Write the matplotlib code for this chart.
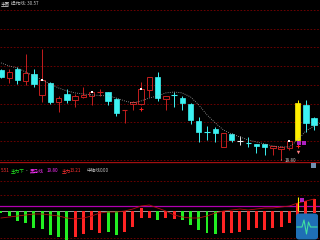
import numpy as np
import matplotlib.pyplot as plt
from matplotlib.patches import Rectangle, FancyBboxPatch

plt.rcParams['font.family'] = ['Noto Sans CJK SC', 'DejaVu Sans']

# main chart: daily candles (price)
opens = [23.75, 23.31, 23.81, 23.15, 23.53, 22.38, 23.04, 21.99, 22.43, 22.10,
         22.27, 22.32, 22.54, 22.54, 22.16, 21.55, 21.88, 21.88, 22.65, 23.37,
         22.16, 22.38, 22.21, 21.88, 20.95, 20.34, 20.51, 19.52, 20.23, 19.85,
         19.74, 19.68, 19.68, 19.46, 19.41, 19.46, 19.90, 21.83, 21.11, 20.89]
highs = [23.81, 23.81, 23.92, 24.63, 23.81, 24.91, 23.09, 22.32, 22.71, 22.43,
         22.82, 22.60, 22.71, 22.54, 22.21, 21.55, 22.05, 23.09, 23.37, 23.64,
         22.32, 22.54, 22.32, 21.94, 21.17, 20.67, 20.62, 20.29, 20.29, 20.12,
         20.07, 19.68, 19.68, 19.57, 19.57, 19.90, 22.10, 22.10, 21.17, 22.65]
lows = [23.31, 23.04, 22.98, 22.93, 22.82, 21.99, 21.88, 21.44, 21.94, 21.72,
        22.21, 21.83, 22.32, 21.83, 21.22, 20.84, 21.55, 21.83, 22.27, 22.05,
        21.55, 21.72, 21.55, 20.78, 19.79, 19.90, 19.79, 19.52, 19.79, 19.63,
        19.52, 19.19, 19.08, 19.08, 18.80, 19.35, 19.85, 20.34, 20.45, 20.84]
closes = [23.37, 23.64, 23.20, 23.59, 22.98, 23.20, 21.99, 22.21, 22.10, 22.32,
          22.38, 22.54, 22.54, 22.05, 21.39, 21.55, 21.99, 22.71, 23.37, 22.21,
          22.32, 22.38, 21.94, 21.00, 20.34, 20.34, 20.29, 20.29, 19.90, 19.85,
          19.74, 19.57, 19.52, 19.57, 19.52, 19.85, 21.94, 20.84, 20.73, 22.54]
op_line = [24.14, 23.97, 23.86, 23.64, 23.42, 23.20, 22.98, 22.76, 22.60, 22.49,
           22.43, 22.38, 22.35, 22.32, 22.21, 22.05, 21.94, 22.05, 22.21, 22.32,
           22.49, 22.54, 22.49, 22.27, 21.83, 21.28, 20.84, 20.45, 20.23, 20.07,
           19.90, 19.79, 19.68, 19.57, 19.52, 19.52, 19.90, 20.40, 20.67, 20.89]
white_sig = [5, 11, 17, 35]
cross_sig = [(17, 21.60), (36, 19.57)]
low_label = '18.80'

# sub chart
bar_top = [0, 0, 0, 0, 0, 0, 0, 0, 0, 0, 0, 0, 0, 0, 0, 0, 0, 11.9, 0, 0,
           0, 0, 0, 0, 0, 0, 0, 0, 0, 0, 0, 0, 0, 0, 0, 0, 31.7, 39.6, 47.5]
bar_bot = [-7.9, -19.8, -39.6, -47.5, -67.3, -71.3, -95.0, -103.0, -114.8, -103.0,
           -91.1, -75.2, -87.1, -83.2, -95.0, -83.2, -63.4, -27.7, -27.7, -35.6,
           -27.7, -31.7, -35.6, -55.4, -75.2, -87.1, -91.1, -87.1, -87.1, -83.2,
           -75.2, -67.3, -75.2, -67.3, -63.4, -47.5, -43.6, -27.7, -7.9]
bar_dir = list('GGGGGGGGGRRRRGGRRRRGRRGGGGGRRRRRRRRRRRR')
main_line = [-27.7, -23.8, -19.8, -15.8, -11.9, -11.9, -15.8, -19.8, -27.7, -31.7,
             -27.7, -19.8, -7.9, -4.0, -4.0, 0, 7.9, 19.8, 23.8, 11.9,
             0, -15.8, -23.8, -27.7, -27.7, -19.8, -7.9, 0, 4.0, 7.9,
             4.0, 7.9, 11.9, 11.9, 15.8, 19.8, 31.7, 39.6, 47.5]
heima = 19.80

RED = '#c41e1e'
CYAN = '#3cf2f2'
YEL = '#ffee00'
special = {21: CYAN, 25: CYAN, 30: CYAN, 29: '#e8e8e8', 36: YEL, 39: YEL}

fig = plt.figure(figsize=(3.2, 2.4), dpi=100, facecolor='black')
ax = fig.add_axes([0, 1 - 162 / 240, 1, 152 / 240])
ax2 = fig.add_axes([0, 0, 1, 78 / 240])
for a in (ax, ax2):
    a.set_facecolor('black')
    a.set_xticks([])
    a.set_yticks([])
    for s in a.spines.values():
        s.set_visible(False)
    a.set_xlim(-0.12, 38.71)

ax.set_ylim(18.69, 27.05)
for lv in np.linspace(27.05, 18.82, 9):
    ax.axhline(lv, color='#7a0000', lw=0.6, ls=(0, (2, 2)), zorder=0)

w = 0.66
for i in range(len(opens)):
    o, h, l, c = opens[i], highs[i], lows[i], closes[i]
    col = special.get(i, RED if c >= o else CYAN)
    if col == YEL:
        ax.vlines(i, l, h, color=col, lw=0.7, zorder=2)
        ax.add_patch(Rectangle((i - w / 2, o), w, c - o, facecolor=col, edgecolor=col, lw=0.5, zorder=3))
    elif o == c:
        ax.vlines(i, l, h, color=col, lw=0.7, zorder=2)
        ax.hlines(o, i - w / 2, i + w / 2, color=col, lw=0.8, zorder=3)
    elif c > o:
        ax.vlines(i, c, h, color=col, lw=0.7, zorder=2)
        ax.vlines(i, l, o, color=col, lw=0.7, zorder=2)
        ax.add_patch(Rectangle((i - w / 2, o), w, c - o, fill=False, edgecolor=col, lw=0.7, zorder=3))
    else:
        ax.vlines(i, l, h, color=col, lw=0.7, zorder=2)
        ax.add_patch(Rectangle((i - w / 2, c), w, o - c, facecolor=col, edgecolor=col, lw=0.5, zorder=3))

ax.plot(range(len(op_line)), op_line, color='#a8a8a8', lw=0.6, ls=(0, (1, 1.6)), zorder=4)
ax.scatter(white_sig, [closes[i] for i in white_sig], marker='s', s=2.5, color='white', zorder=5, linewidths=0)
ax.scatter([p[0] for p in cross_sig], [p[1] for p in cross_sig], marker='+', s=6, color='#ff2020', lw=0.7, zorder=5)
ax.scatter([36.15, 36.75], [19.74, 19.74], marker='s', s=5, color='#b020c0', zorder=5, linewidths=0)
ax.scatter([36], [19.24], marker='v', s=6, color='#ff8080', zorder=5, linewidths=0)
ax.annotate(low_label, xy=(34, 18.80), xytext=(34.4, 18.76), color='#c8c8c8', fontsize=3.3,
            va='center', annotation_clip=False,
            arrowprops=dict(arrowstyle='-', color='#c8c8c8', lw=0.5, shrinkA=0, shrinkB=0))

# sub chart
ax2.set_ylim(-114.8, 194.0)
for lv in (118.8, 63.4, -106.9):
    ax2.axhline(lv, color='#7a0000', lw=0.6, ls=(0, (2, 2)), zorder=0)
ax2.axhline(194.0, color='#a01010', lw=1.0, zorder=1)
ax2.axhline(heima, color='#b000b0', lw=0.9, zorder=1)
ax2.axhline(0, color='#b4b4b4', lw=0.6, zorder=1)
x2 = np.arange(len(bar_top))
hts = np.array(bar_bot) - np.array(bar_top)
cols = ['#22ee22' if d == 'G' else '#ff2424' for d in bar_dir]
ax2.bar(x2, hts, bottom=bar_top, width=0.36, color=cols, zorder=2)
ax2.plot(x2, main_line, color='#b01010', lw=0.6, zorder=3)
ax2.vlines(36, 0, 55.4, color=YEL, lw=0.8, zorder=4)
ax2.scatter([36.5], [45], marker='s', s=6, color='#b020c0', zorder=5, linewidths=0)

# titles
fs = 3.3
fig.text(0.5 / 320, 1 - 3.5 / 240, '主图', color='#d8d8d8', fontsize=fs, va='center')
fig.text(11 / 320, 1 - 3.5 / 240, '操作线: 30.57', color='#c8c8c8', fontsize=fs, va='center')
yy = 1 - 170.5 / 240
for xp, s, c in [(0.5, '5.51', '#ff3030'), (10.5, '主力下', '#22ee22'), (25.5, '-', '#d0d0d0'),
                 (30, '黑马线', '#ff30ff'), (47, '19.80', '#ff30ff'), (61.5, '主力', '#ff3030'),
                 (70, '13.21', '#ff3030'), (87, '中轴线', '#c0c0c0'), (100, '0.00', '#c0c0c0')]:
    fig.text(xp / 320, yy, s, color=c, fontsize=fs, va='center')

# corner icons
fig.patches.append(Rectangle((311 / 320, 1 - 167.5 / 240), 5 / 320, 5 / 240,
                             transform=fig.transFigure, facecolor='#7090b0', edgecolor='none'))
fig.patches.append(FancyBboxPatch((296 / 320, 0.5 / 240), 22 / 320, 26 / 240,
                                  boxstyle='round,pad=0,rounding_size=0.01',
                                  transform=fig.transFigure, facecolor='#1f6fb5', edgecolor='none', zorder=10))
ex = np.array([297, 302, 304, 306.5, 308.5, 310.5, 317]) / 320
ey = 1 - np.array([227, 227, 220, 234, 222, 227, 227]) / 240
fig.lines.append(plt.Line2D(ex, ey, transform=fig.transFigure, color='#40e0a0', lw=0.8, zorder=11))

fig.savefig('out.png', dpi=100, facecolor='black')
